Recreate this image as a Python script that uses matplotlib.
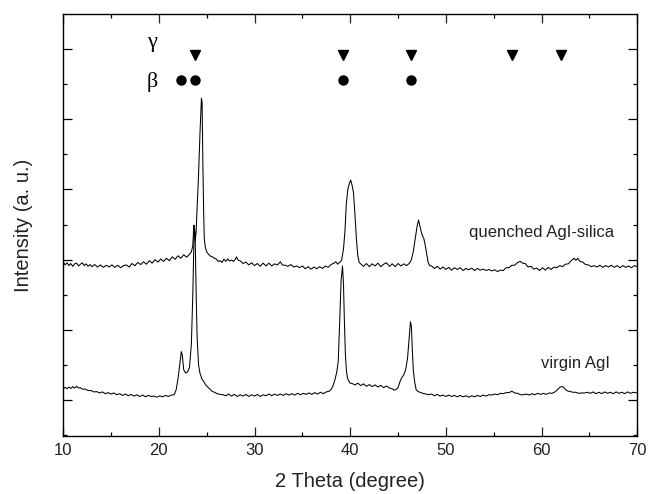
import matplotlib
matplotlib.use("Agg")
import matplotlib.pyplot as plt
from matplotlib.ticker import MultipleLocator

# ---------------- data (arbitrary units) ----------------
q_x = [10.0, 10.2, 10.4, 10.6, 10.8, 11.0, 11.2, 11.4, 11.6, 11.8, 12.0, 12.2, 12.4, 12.6, 12.8,
       13.0, 13.3, 13.6, 13.9, 14.2, 14.5, 14.8, 15.1, 15.4, 15.7, 16.0, 16.3, 16.6, 16.9, 17.2,
       17.5, 17.8, 18.1, 18.4, 18.7, 19.0, 19.3, 19.6, 19.9, 20.2, 20.5, 20.8, 21.1, 21.4, 21.7,
       22.0, 22.3, 22.6, 22.9, 23.2, 23.4, 23.55, 23.65, 23.72, 23.8, 23.9, 24.0, 24.12, 24.3,
       24.45, 24.52, 24.6, 24.68, 24.75, 24.85, 25.0, 25.2, 25.4, 25.6, 25.8, 26.0, 26.2, 26.4,
       26.6, 26.8, 27.0, 27.2, 27.4, 27.6, 27.8, 28.0, 28.1, 28.3, 28.5, 28.8, 29.1, 29.4, 29.7,
       30.0, 30.3, 30.6, 30.9, 31.2, 31.5, 31.8, 32.1, 32.4, 32.7, 32.9, 33.2, 33.5, 33.8, 34.1,
       34.4, 34.7, 35.0, 35.3, 35.6, 35.9, 36.2, 36.5, 36.8, 37.1, 37.4, 37.7, 38.0, 38.3, 38.5,
       38.7, 38.9, 39.1, 39.3, 39.45, 39.6, 39.75, 39.9, 40.05, 40.2, 40.35, 40.5, 40.65, 40.8,
       40.95, 41.1, 41.4, 41.7, 42.0, 42.3, 42.6, 42.9, 43.2, 43.5, 43.8, 44.1, 44.4, 44.7, 45.0,
       45.3, 45.6, 45.9, 46.2, 46.4, 46.6, 46.8, 47.0, 47.15, 47.3, 47.5, 47.7, 47.85, 48.0,
       48.15, 48.3, 48.5, 48.8, 49.1, 49.4, 49.7, 50.0, 50.3, 50.6, 50.9, 51.2, 51.5, 51.8, 52.1,
       52.4, 52.7, 53.0, 53.3, 53.6, 53.9, 54.2, 54.5, 54.8, 55.1, 55.4, 55.7, 56.0, 56.3, 56.6,
       56.9, 57.2, 57.5, 57.8, 58.0, 58.3, 58.6, 58.9, 59.2, 59.5, 59.8, 60.1, 60.4, 60.7, 61.0,
       61.3, 61.6, 61.9, 62.2, 62.5, 62.8, 63.1, 63.4, 63.6, 63.8, 64.0, 64.3, 64.6, 64.9, 65.2,
       65.5, 65.8, 66.1, 66.4, 66.7, 67.0, 67.3, 67.6, 67.9, 68.2, 68.5, 68.8, 69.1, 69.4, 69.7,
       70.0]
q_y = [1970, 1925, 1955, 1915, 1945, 1905, 1940, 1950, 1910, 1935, 1955, 1915, 1940, 1905, 1930,
       1900, 1930, 1895, 1925, 1890, 1920, 1895, 1925, 1890, 1920, 1885, 1915, 1925, 1895, 1945,
       1915, 1960, 1930, 1970, 1935, 1985, 1950, 2000, 1965, 2010, 1975, 2020, 1985, 2040, 2005,
       2055, 2020, 2070, 2035, 2075, 2110, 2200, 2490, 2470, 2270, 2400, 2750, 3100, 3800,
       4300, 4250, 3400, 2700, 2300, 2180, 2110, 2075, 2050, 2040, 2020, 2010, 1975, 1985,
       1960, 2005, 1975, 2010, 1980, 1995, 1975, 2005, 2040, 1990, 1985, 1945, 1965, 1925, 1955,
       1915, 1945, 1905, 1950, 1910, 1950, 1910, 1940, 1925, 1970, 1925, 1920, 1905, 1930, 1895,
       1910, 1885, 1910, 1870, 1900, 1865, 1895, 1870, 1900, 1875, 1910, 1890, 1930, 1950, 1970,
       1935, 1960, 1990, 2150, 2400, 2800, 3000, 3080, 3135, 3060, 2950, 2640, 2300, 2050,
       1960, 1940, 1905, 1945, 1900, 1940, 1910, 1950, 1900, 1935, 1955, 1905, 1940, 1900, 1945,
       1910, 1940, 1915, 1950, 2000, 2120, 2300, 2480, 2565, 2470, 2360, 2300, 2200, 2080,
       1960, 1915, 1910, 1875, 1905, 1865, 1895, 1860, 1890, 1850, 1885, 1860, 1885, 1845, 1875,
       1855, 1880, 1845, 1875, 1850, 1865, 1845, 1860, 1840, 1855, 1830, 1850, 1845, 1885, 1885,
       1920, 1920, 1960, 1975, 1950, 1945, 1895, 1905, 1865, 1880, 1845, 1885, 1850, 1890, 1860,
       1895, 1885, 1915, 1900, 1935, 1940, 1985, 2020, 1990, 2020, 1975, 1965, 1930, 1925, 1900,
       1915, 1895, 1920, 1890, 1915, 1895, 1920, 1890, 1915, 1885, 1915, 1890, 1910, 1885, 1915,
       1900]

v_x = [10.0, 10.2, 10.4, 10.6, 10.8, 11.0, 11.2, 11.4, 11.6, 11.8, 12.0, 12.3, 12.6, 12.9, 13.2,
       13.5, 13.8, 14.1, 14.4, 14.7, 15.0, 15.3, 15.6, 15.9, 16.2, 16.5, 16.8, 17.1, 17.4, 17.7,
       18.0, 18.3, 18.6, 18.9, 19.2, 19.5, 19.8, 20.1, 20.4, 20.7, 21.0, 21.3, 21.6, 21.8, 22.0,
       22.2, 22.35, 22.45, 22.6, 22.8, 23.0, 23.2, 23.4, 23.55, 23.7, 23.8, 23.9, 24.0, 24.15,
       24.3, 24.5, 24.7, 24.9, 25.1, 25.3, 25.5, 25.8, 26.1, 26.4, 26.7, 27.0, 27.3, 27.6, 27.9,
       28.2, 28.5, 28.8, 29.1, 29.4, 29.7, 30.0, 30.3, 30.6, 30.9, 31.2, 31.5, 31.8, 32.1, 32.4,
       32.7, 33.0, 33.3, 33.6, 33.9, 34.2, 34.5, 34.8, 35.1, 35.4, 35.7, 36.0, 36.3, 36.6, 36.9,
       37.2, 37.5, 37.8, 38.0, 38.2, 38.4, 38.6, 38.75, 38.9, 39.05, 39.2, 39.3, 39.4, 39.5, 39.6,
       39.7, 39.85, 40.0, 40.2, 40.5, 40.8, 41.1, 41.4, 41.7, 42.0, 42.3, 42.6, 42.9, 43.2, 43.5,
       43.8, 44.1, 44.4, 44.6, 44.8, 45.0, 45.2, 45.4, 45.6, 45.8, 46.0, 46.15, 46.3, 46.4, 46.5,
       46.6, 46.75, 46.9, 47.1, 47.3, 47.6, 47.9, 48.2, 48.5, 48.8, 49.1, 49.4, 49.7, 50.0, 50.3,
       50.6, 50.9, 51.2, 51.5, 51.8, 52.1, 52.4, 52.7, 53.0, 53.3, 53.6, 53.9, 54.2, 54.5, 54.8,
       55.1, 55.4, 55.7, 56.0, 56.3, 56.6, 56.9, 57.2, 57.5, 57.8, 58.1, 58.4, 58.7, 59.0, 59.3,
       59.6, 59.9, 60.2, 60.5, 60.8, 61.1, 61.4, 61.7, 61.9, 62.1, 62.3, 62.5, 62.7, 63.0, 63.3,
       63.6, 63.9, 64.2, 64.5, 64.8, 65.1, 65.4, 65.7, 66.0, 66.3, 66.6, 66.9, 67.2, 67.5, 67.8,
       68.1, 68.4, 68.7, 69.0, 69.3, 69.6, 70.0]
v_y = [160, 180, 160, 185, 165, 190, 170, 195, 170, 175, 155, 155, 135, 135, 115,
       120, 100, 115, 90, 105, 85, 100, 75, 90, 65, 85, 60, 80, 55, 75,
       50, 70, 45, 65, 50, 55, 40, 60, 45, 65, 50, 70, 75, 140, 300,
       520, 690, 640, 430, 385, 400, 460, 800, 1500, 2490, 2300, 1500, 900, 500,
       380, 300, 260, 215, 185, 160, 130, 110, 90, 80, 75, 60, 85, 55, 80,
       50, 75, 55, 80, 50, 75, 55, 80, 50, 75, 60, 85, 60, 85, 65,
       85, 65, 90, 70, 90, 70, 95, 75, 95, 80, 100, 80, 105, 85, 110,
       90, 115, 125, 150, 200, 285, 400, 550, 1100, 1700, 1910, 1650, 1100, 650, 430,
       320, 270, 240, 235, 215, 240, 205, 230, 195, 220, 190, 215, 185, 210, 175,
       200, 170, 160, 140, 150, 175, 260, 320, 360, 430, 600, 850, 1115, 1050, 700,
       420, 250, 145, 120, 110, 95, 85, 75, 85, 60, 80, 55, 70, 50, 70,
       50, 65, 45, 65, 45, 60, 40, 60, 45, 65, 50, 70, 55, 75, 70,
       85, 75, 95, 90, 105, 105, 125, 100, 95, 75, 75, 85, 70, 90, 75,
       95, 80, 95, 80, 100, 95, 115, 150, 180, 190, 185, 150, 130, 120, 110,
       110, 95, 100, 100, 110, 95, 115, 90, 110, 90, 115, 95, 110, 90, 115,
       95, 110, 90, 115, 95, 110, 100]

gamma_pos = [23.8, 39.2, 46.35, 56.9, 62.05]
beta_pos = [22.3, 23.78, 39.2, 46.33]
gamma_level = 4910
beta_level = 4560

x_ticks = [10, 20, 30, 40, 50, 60, 70]
series_labels = ["quenched AgI-silica", "virgin AgI"]

# ---------------- figure ----------------
plt.rcParams['font.family'] = ['Liberation Sans', 'DejaVu Sans']
fig = plt.figure(figsize=(6.48, 4.94), dpi=100)
ax = fig.add_axes([0.0975, 0.118, 0.8858, 0.853])

ax.plot(q_x, q_y, color='black', lw=0.75)
ax.plot(v_x, v_y, color='black', lw=0.75)

ax.plot(gamma_pos, [gamma_level] * len(gamma_pos), linestyle='none',
        marker='v', color='black', markersize=7.5)
ax.plot(beta_pos, [beta_level] * len(beta_pos), linestyle='none',
        marker='o', color='black', markersize=6.5)

ax.text(19.28, 5037, "γ", family=['Liberation Serif', 'DejaVu Serif'], fontsize=16,
        ha='center', va='baseline', color='black')
ax.text(19.28, 4467, "β", family=['Liberation Serif', 'DejaVu Serif'], fontsize=16,
        ha='center', va='baseline', color='black')

ax.text(52.42, 2380, series_labels[0], fontsize=12, ha='left', va='center', color='#222222')
ax.text(59.96, 527, series_labels[1], fontsize=12, ha='left', va='center', color='#222222')

ax.set_xlim(10, 70)
ax.set_ylim(-509, 5496)
ax.set_xticks(x_ticks)
ax.xaxis.set_minor_locator(MultipleLocator(5))
ax.yaxis.set_major_locator(MultipleLocator(1000))
ax.yaxis.set_minor_locator(MultipleLocator(500))
ax.tick_params(which='both', direction='in', top=True, right=True, width=0.9)
ax.tick_params(which='major', length=6.5)
ax.tick_params(which='minor', length=3)
ax.tick_params(axis='x', labelsize=12, pad=5, colors='#222222')
ax.tick_params(axis='y', labelleft=False)
for s in ax.spines.values():
    s.set_linewidth(1.0)

ax.set_xlabel("2 Theta (degree)", fontsize=14.5, color='#222222')
ax.set_ylabel("Intensity (a. u.)", fontsize=14.5, color='#222222')
ax.xaxis.set_label_coords(0.5, -0.085)
ax.yaxis.set_label_coords(-0.052, 0.5)

fig.savefig("out.png", dpi=100)
